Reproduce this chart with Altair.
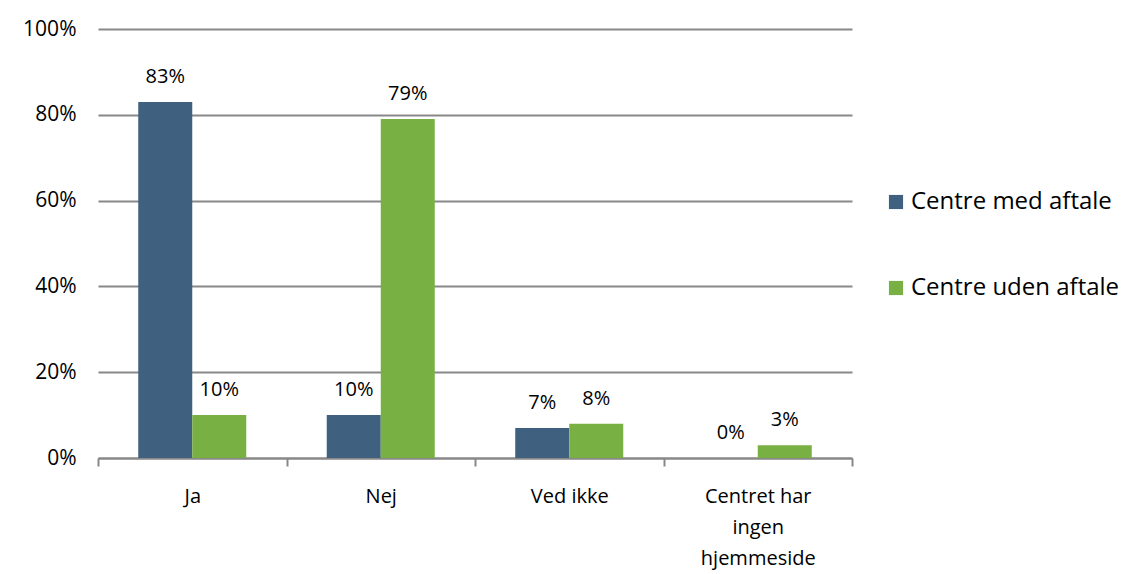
import altair as alt
import pandas as pd

categories = ["Ja", "Nej", "Ved ikke", "Centret har ingen hjemmeside"]
series = ["Centre med aftale", "Centre uden aftale"]
med_aftale = [83, 10, 7, 0]
uden_aftale = [10, 79, 8, 3]
colors = ["#3F607E", "#79B043"]

rows = []
for c, a, b in zip(categories, med_aftale, uden_aftale):
    rows.append({"kategori": c, "serie": series[0], "værdi": a / 100, "label": f"{a}%"})
    rows.append({"kategori": c, "serie": series[1], "værdi": b / 100, "label": f"{b}%"})
df = pd.DataFrame(rows)

FONT = "Open Sans"

x = alt.X(
    "kategori:N",
    sort=categories,
    title=None,
    scale=alt.Scale(paddingInner=0, paddingOuter=0),
    axis=alt.Axis(
        labelAngle=0,
        labelFont=FONT,
        labelFontSize=20,
        labelColor="#000000",
        labelPadding=20,
        labelLineHeight=31,
        labelBaseline="top",
        labelExpr="datum.label == 'Centret har ingen hjemmeside' ? ['Centret har', 'ingen', 'hjemmeside'] : datum.label",
        tickBand="extent",
        tickSize=8,
        tickColor="#888888",
        tickWidth=2,
        domainColor="#888888",
        domainWidth=2,
        grid=False,
    ),
)
xoff = alt.XOffset(
    "serie:N",
    sort=series,
    scale=alt.Scale(paddingInner=0, paddingOuter=0.745),
)

y = alt.Y(
    "værdi:Q",
    title=None,
    scale=alt.Scale(domain=[0, 1]),
    axis=alt.Axis(
        format=".0%",
        values=[0, 0.2, 0.4, 0.6, 0.8, 1.0],
        labelFont=FONT,
        labelFontSize=21,
        labelColor="#000000",
        labelPadding=22,
        domain=False,
        ticks=False,
        gridColor="#888888",
        gridWidth=2,
    ),
)

color = alt.Color(
    "serie:N",
    sort=series,
    scale=alt.Scale(domain=series, range=colors),
    legend=alt.Legend(
        title=None,
        orient="none",
        legendX=786,
        legendY=161,
        symbolType="square",
        symbolSize=200,
        symbolStrokeWidth=0,
        labelFont=FONT,
        labelFontSize=24,
        labelColor="#000000",
        labelLimit=300,
        rowPadding=62,
        labelOffset=3,
    ),
)

bars = alt.Chart(df).mark_bar().encode(x=x, xOffset=xoff, y=y, color=color)
labels = alt.Chart(df).mark_text(
    font=FONT, fontSize=20, color="#000000", baseline="bottom", dy=-15
).encode(x=x, xOffset=xoff, y=y, text="label:N")

chart = (
    alt.layer(bars, labels)
    .properties(
        width=754,
        height=429,
        background="#FFFFFF",
        autosize=alt.AutoSizeParams(type="none"),
        padding={"left": 90, "top": 21, "right": 271, "bottom": 116},
    )
    .configure_view(stroke="transparent", strokeWidth=0)
    .configure_axisX(grid=False)
)

chart.save("out.html", embed_options={"renderer": "svg", "actions": False})
